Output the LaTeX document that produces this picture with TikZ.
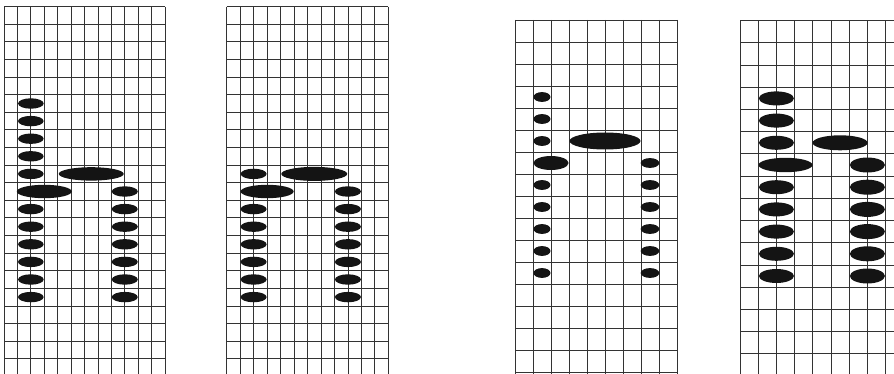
\documentclass[tikz,border=0pt]{standalone}
\usepackage{tikz}

\begin{document}
\begin{tikzpicture}[
    x=1pt, y=-1pt,
    gridline/.style={black!80, line width=0.8pt},
    dot/.style={fill=black!92}
  ]
  \useasboundingbox (0,0) rectangle (894,374);
  \clip (0,0) rectangle (894,374);

  % first h, fine grid
  \begin{scope}[shift={(4,6.7)}, x=13.42pt, y=-17.6pt]
    \foreach \i in {0,...,12} \draw[gridline] (\i,0) -- (\i,22);
    \foreach \j in {0,...,21} \draw[gridline] (0,\j) -- (12,\j);
    \foreach \r in {5,6,7,8,9,11,12,13,14,15,16}
      \fill[dot] (2,\r+0.5) ellipse [x radius=12.8pt, y radius=5.2pt];
    \fill[dot] (3,10.5) ellipse [x radius=27.5pt, y radius=6.7pt];
    \fill[dot] (6.5,9.5) ellipse [x radius=32.5pt, y radius=6.7pt];
    \foreach \r in {10,...,16}
      \fill[dot] (9,\r+0.5) ellipse [x radius=13pt, y radius=5.2pt];
  \end{scope}

  % n, fine grid
  \begin{scope}[shift={(226.7,6.7)}, x=13.47pt, y=-17.6pt]
    \foreach \i in {0,...,12} \draw[gridline] (\i,0) -- (\i,22);
    \foreach \j in {0,...,21} \draw[gridline] (0,\j) -- (12,\j);
    \foreach \r in {9,11,12,13,14,15,16}
      \fill[dot] (2,\r+0.5) ellipse [x radius=13pt, y radius=5.2pt];
    \fill[dot] (3,10.5) ellipse [x radius=26.5pt, y radius=6.7pt];
    \fill[dot] (6.5,9.5) ellipse [x radius=33pt, y radius=7pt];
    \foreach \r in {10,...,16}
      \fill[dot] (9,\r+0.5) ellipse [x radius=13pt, y radius=5.2pt];
  \end{scope}

  % second h, coarse grid, thin stems
  \begin{scope}[shift={(515,20)}, x=18pt, y=-22pt]
    \foreach \i in {0,...,9} \draw[gridline] (\i,0) -- (\i,17);
    \foreach \j in {0,...,16} \draw[gridline] (0,\j) -- (9,\j);
    \foreach \r in {3,4,5,7,8,9,10,11}
      \fill[dot] (1.5,\r+0.5) ellipse [x radius=8.5pt, y radius=4.9pt];
    \fill[dot] (2,6.5) ellipse [x radius=17.5pt, y radius=7pt];
    \fill[dot] (5,5.5) ellipse [x radius=35.5pt, y radius=8.5pt];
    \foreach \r in {6,...,11}
      \fill[dot] (7.5,\r+0.5) ellipse [x radius=9.3pt, y radius=4.9pt];
  \end{scope}

  % second h, coarse grid, heavy stems
  \begin{scope}[shift={(740,20.7)}, x=18.2pt, y=-22.2pt]
    \foreach \i in {0,...,9} \draw[gridline] (\i,0) -- (\i,17);
    \foreach \j in {0,...,16} \draw[gridline] (0,\j) -- (9,\j);
    \foreach \r in {3,4,5,7,8,9,10,11}
      \fill[dot] (2,\r+0.5) ellipse [x radius=17.5pt, y radius=7pt];
    \fill[dot] (2.5,6.5) ellipse [x radius=27pt, y radius=7.2pt];
    \fill[dot] (5.5,5.5) ellipse [x radius=27.5pt, y radius=7.5pt];
    \foreach \r in {6,...,11}
      \fill[dot] (7,\r+0.5) ellipse [x radius=17.5pt, y radius=7.5pt];
  \end{scope}
\end{tikzpicture}
\end{document}
